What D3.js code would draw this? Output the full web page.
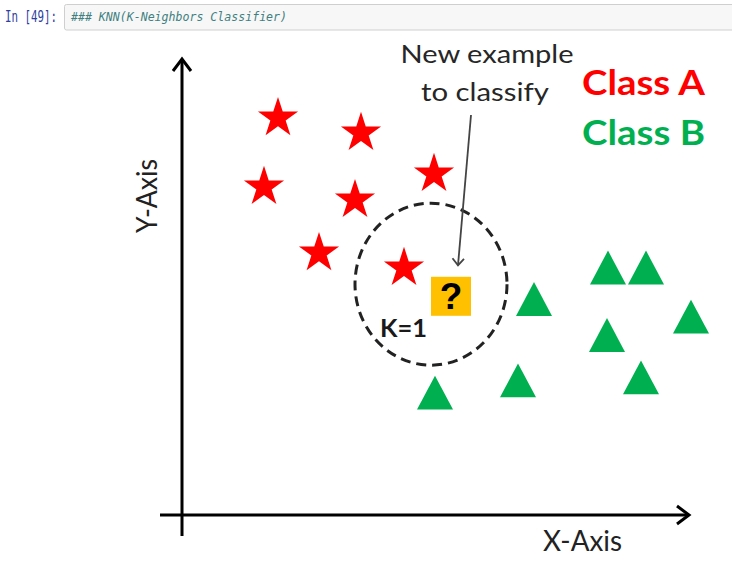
<!DOCTYPE html>
<html>
<head>
<meta charset="utf-8">
<style>
  body { margin: 0; background: #fff; }
  svg { display: block; }
</style>
</head>
<body>
<script src="https://cdn.jsdelivr.net/npm/d3@7"></script>
<svg width="732" height="577"></svg>
<script>
    // points in feature space (x 0..10, y 0..10)
    const classA = [
        {x: 1.92, y: 8.82}, {x: 3.58, y: 8.49}, {x: 1.64, y: 7.29},
        {x: 3.46, y: 7.00}, {x: 5.04, y: 7.58}, {x: 2.74, y: 5.82},
        {x: 4.44, y: 5.49}
    ]
    const classB = [
        {x: 7.04, y: 4.80}, {x: 8.52, y: 5.50}, {x: 9.28, y: 5.50},
        {x: 10.18, y: 4.41}, {x: 8.50, y: 4.00}, {x: 9.18, y: 3.06},
        {x: 6.72, y: 2.99}, {x: 5.06, y: 2.72}
    ]
    const newPoint = {x: 5.38, y: 4.86}
    const circleCenter = {x: 4.98, y: 5.13}
    const legendLabels = ["Class A", "Class B"]
    const red = "#ff0000", green = "#00b050"

    const svg = d3.select("svg")

    // notebook cell header
    svg.append("text").attr("x", 5).attr("y", 22)
        .attr("font-family", "DejaVu Sans Mono").attr("font-size", 15)
        .attr("fill", "#303f9f").attr("textLength", 52).attr("lengthAdjust", "spacingAndGlyphs")
        .text("In [49]:")
    svg.append("rect").attr("x", 64.5).attr("y", 4.5).attr("width", 680).attr("height", 25.5)
        .attr("rx", 2).attr("fill", "#f7f7f7").attr("stroke", "#cfcfcf")
    svg.append("text").attr("x", 71).attr("y", 21)
        .attr("font-family", "DejaVu Sans Mono").attr("font-size", 12.5).attr("font-style", "italic")
        .attr("fill", "#408080").attr("textLength", 216).attr("lengthAdjust", "spacingAndGlyphs")
        .text("### KNN(K-Neighbors Classifier)")

    const xScale = d3.scaleLinear().domain([0, 10]).range([182, 682])
    const yScale = d3.scaleLinear().domain([0, 10]).range([515, 65])

    // axes with arrow heads
    const axes = svg.append("g").attr("stroke", "#000").attr("stroke-width", 3).attr("fill", "none")
    axes.append("line").attr("x1", 160).attr("x2", 689).attr("y1", 515).attr("y2", 515)
    axes.append("line").attr("x1", 182).attr("x2", 182).attr("y1", 536).attr("y2", 59)
    axes.append("path").attr("d", "M677,506 L689,515 L677,524").attr("stroke-linejoin", "miter")
    axes.append("path").attr("d", "M173,71 L182,59 L191,71").attr("stroke-linejoin", "miter")

    const axisFont = "Lato, 'Open Sans', sans-serif"
    svg.append("text").attr("x", 543).attr("y", 551)
        .attr("font-family", axisFont).attr("font-size", 28).attr("fill", "#222")
        .attr("textLength", 79).attr("lengthAdjust", "spacingAndGlyphs")
        .text("X-Axis")
    svg.append("text").attr("transform", "translate(157,196) rotate(-90)")
        .attr("text-anchor", "middle")
        .attr("font-family", axisFont).attr("font-size", 28).attr("fill", "#222")
        .attr("textLength", 74).attr("lengthAdjust", "spacingAndGlyphs")
        .text("Y-Axis")

    // K=1 neighbourhood
    svg.append("ellipse")
        .attr("cx", xScale(circleCenter.x)).attr("cy", yScale(circleCenter.y))
        .attr("rx", 76).attr("ry", 81)
        .attr("fill", "none").attr("stroke", "#222").attr("stroke-width", 3)
        .attr("stroke-dasharray", "10,6")

    // stars
    const star = d3.symbol().type(d3.symbolStar).size(500)
    svg.selectAll("path.classA")
        .data(classA)
        .enter()
        .append("path")
        .attr("class", "classA")
        .attr("d", star)
        .attr("transform", d => `translate(${xScale(d.x)},${yScale(d.y)})`)
        .style("fill", red)

    // triangles (a bit taller than equilateral)
    const tri = {
        draw(ctx, size) {
            const w = Math.sqrt(size) / 2, h = Math.sqrt(size) * 0.47
            ctx.moveTo(0, -h)
            ctx.lineTo(w, h)
            ctx.lineTo(-w, h)
            ctx.closePath()
        }
    }
    const triangle = d3.symbol().type(tri).size(36 * 36)
    svg.selectAll("path.classB")
        .data(classB)
        .enter()
        .append("path")
        .attr("class", "classB")
        .attr("d", triangle)
        .attr("transform", d => `translate(${xScale(d.x)},${yScale(d.y)})`)
        .style("fill", green)

    // the new example
    const nx = xScale(newPoint.x), ny = yScale(newPoint.y)
    svg.append("rect").attr("x", nx - 20).attr("y", ny - 19.5).attr("width", 40).attr("height", 39)
        .attr("fill", "#ffc000")
    svg.append("text").attr("x", nx).attr("y", ny + 13)
        .attr("text-anchor", "middle").attr("font-family", "Liberation Sans, Arial, sans-serif")
        .attr("font-weight", "bold").attr("font-size", 37).attr("fill", "#000")
        .text("?")

    svg.append("text").attr("x", 380).attr("y", 337)
        .attr("font-family", axisFont).attr("font-weight", "bold").attr("font-size", 25).attr("fill", "#1a1a1a")
        .attr("textLength", 47).attr("lengthAdjust", "spacingAndGlyphs")
        .text("K=1")

    // annotation arrow
    svg.append("line").attr("x1", 471).attr("y1", 115).attr("x2", nx + 7).attr("y2", ny - 31)
        .attr("stroke", "#444").attr("stroke-width", 1.8)
    svg.append("path").attr("d", `M${nx + 1.5},${ny - 38} L${nx + 7},${ny - 31} L${nx + 13},${ny - 37.5}`)
        .attr("fill", "none").attr("stroke", "#444").attr("stroke-width", 1.8)

    const annot = svg.append("g").attr("font-family", axisFont).attr("font-size", 25)
        .attr("fill", "#262626").attr("text-anchor", "middle")
    annot.append("text").attr("x", 487).attr("y", 63)
        .attr("textLength", 173).attr("lengthAdjust", "spacingAndGlyphs").text("New example")
    annot.append("text").attr("x", 485).attr("y", 101)
        .attr("textLength", 128).attr("lengthAdjust", "spacingAndGlyphs").text("to classify")

    // legend
    svg.selectAll("text.legend")
        .data(legendLabels)
        .enter()
        .append("text")
        .attr("class", "legend")
        .attr("x", 582)
        .attr("y", (d, i) => 95 + i * 50)
        .attr("font-family", axisFont).attr("font-weight", "bold").attr("font-size", 35)
        .attr("textLength", 123).attr("lengthAdjust", "spacingAndGlyphs")
        .style("fill", (d, i) => i === 0 ? red : green)
        .text(d => d)
</script>
</body>
</html>
